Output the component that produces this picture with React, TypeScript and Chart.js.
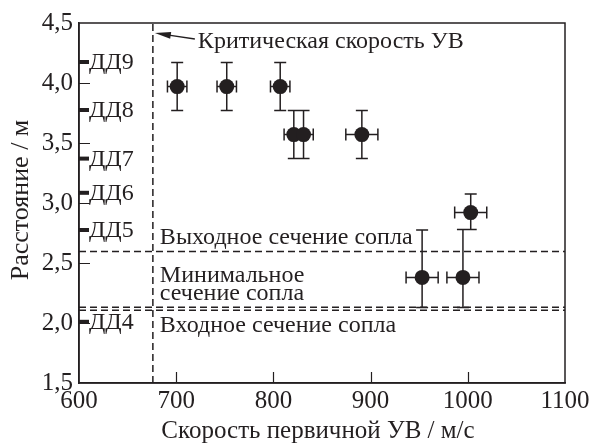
import { useEffect, useRef } from "react";
import { Chart, registerables } from "chart.js";

Chart.register(...registerables);

// ---- data ----
const speeds = [701, 752, 807, 821, 831, 891, 953, 995, 1003];
const distances = [3.97, 3.97, 3.97, 3.57, 3.57, 3.57, 2.38, 2.38, 2.92];
const distLow = [3.77, 3.77, 3.77, 3.37, 3.37, 3.37, 2.13, 2.13, 2.78];
const distHigh = [4.17, 4.17, 4.17, 3.77, 3.77, 3.77, 2.775, 2.78, 3.075];
const speedErr = [10, 10, 10, 10, 10, 16.5, 16.5, 16.5, 16.5];

const sensorNames = ["ДД4", "ДД5", "ДД6", "ДД7", "ДД8", "ДД9"];
const sensorPos = [2.01, 2.775, 3.085, 3.37, 3.775, 4.175];

const criticalSpeed = 676;
const exitSection = 2.595;
const minSection = 2.132;
const inletSection = 2.107;

const xMin = 600;
const xMax = 1100;
const yMin = 1.5;
const yMax = 4.5;
const xTickValues = [700, 800, 900, 1000];
const yTickValues = [2.0, 2.5, 3.0, 3.5, 4.0];

const xTitle = "Скорость первичной УВ / м/с";
const yTitle = "Расстояние / м";
const criticalLabel = "Критическая скорость УВ";
const exitLabel = "Выходное сечение сопла";
const minLabel = ["Минимальное", "сечение сопла"];
const inletLabel = "Входное сечение сопла";

const INK = "#231f20";
const FONT = "'Liberation Serif', 'DejaVu Serif', serif";

const decorPlugin = {
  id: "decor",
  beforeDatasetsDraw(chart: any) {
    const { ctx, chartArea } = chart;
    const xs = chart.scales.x;
    const ys = chart.scales.y;
    ctx.save();
    ctx.strokeStyle = INK;
    ctx.fillStyle = INK;
    // frame
    ctx.lineWidth = 1.5;
    ctx.strokeRect(chartArea.left, chartArea.top, chartArea.right - chartArea.left, chartArea.bottom - chartArea.top);
    // inner ticks
    ctx.lineWidth = 1.2;
    ctx.beginPath();
    for (const v of xTickValues) {
      const px = Math.round(xs.getPixelForValue(v)) + 0.5;
      ctx.moveTo(px, chartArea.bottom);
      ctx.lineTo(px, chartArea.bottom - 11);
    }
    for (const v of yTickValues) {
      const py = Math.round(ys.getPixelForValue(v)) + 0.5;
      ctx.moveTo(chartArea.left, py);
      ctx.lineTo(chartArea.left + 11, py);
    }
    ctx.stroke();

    // sensor marks
    ctx.font = `24px ${FONT}`;
    ctx.textAlign = "left";
    ctx.textBaseline = "alphabetic";
    sensorPos.forEach((v, i) => {
      const py = ys.getPixelForValue(v);
      ctx.fillRect(chartArea.left, py - 2, 10, 4);
      ctx.fillText(sensorNames[i], chartArea.left + 10, py + 7);
    });

    // error bars
    ctx.lineWidth = 1.5;
    const cap = 6;
    ctx.beginPath();
    speeds.forEach((s, i) => {
      const px = xs.getPixelForValue(s);
      const py = ys.getPixelForValue(distances[i]);
      const yl = ys.getPixelForValue(distLow[i]);
      const yh = ys.getPixelForValue(distHigh[i]);
      const xl = xs.getPixelForValue(s - speedErr[i]);
      const xh = xs.getPixelForValue(s + speedErr[i]);
      ctx.moveTo(px, yl);
      ctx.lineTo(px, yh);
      ctx.moveTo(px - cap, yl);
      ctx.lineTo(px + cap, yl);
      ctx.moveTo(px - cap, yh);
      ctx.lineTo(px + cap, yh);
      ctx.moveTo(xl, py);
      ctx.lineTo(xh, py);
      ctx.moveTo(xl, py - cap);
      ctx.lineTo(xl, py + cap);
      ctx.moveTo(xh, py - cap);
      ctx.lineTo(xh, py + cap);
    });
    ctx.stroke();
    ctx.restore();
  },
  afterDraw(chart: any) {
    const { ctx, chartArea } = chart;
    const xs = chart.scales.x;
    const ys = chart.scales.y;
    const cx = xs.getPixelForValue(criticalSpeed);
    ctx.save();
    ctx.fillStyle = INK;
    ctx.strokeStyle = INK;
    ctx.textAlign = "left";
    ctx.textBaseline = "alphabetic";
    ctx.font = `24px ${FONT}`;
    // critical speed label + arrow
    ctx.fillText(criticalLabel, cx + 45, chartArea.top + 25);
    const tipX = cx + 2;
    const tipY = chartArea.top + 10;
    const tailX = cx + 42;
    const tailY = chartArea.top + 16;
    const ang = Math.atan2(tailY - tipY, tailX - tipX);
    const hl = 16;
    const hw = 3.5;
    ctx.lineWidth = 1.3;
    ctx.beginPath();
    ctx.moveTo(tailX, tailY);
    ctx.lineTo(tipX + (hl - 2) * Math.cos(ang), tipY + (hl - 2) * Math.sin(ang));
    ctx.stroke();
    ctx.beginPath();
    ctx.moveTo(tipX, tipY);
    ctx.lineTo(tipX + hl * Math.cos(ang) - hw * Math.sin(ang), tipY + hl * Math.sin(ang) + hw * Math.cos(ang));
    ctx.lineTo(tipX + hl * Math.cos(ang) + hw * Math.sin(ang), tipY + hl * Math.sin(ang) - hw * Math.cos(ang));
    ctx.closePath();
    ctx.fill();

    // nozzle labels
    const ex = ys.getPixelForValue(exitSection);
    const inl = ys.getPixelForValue(inletSection);
    ctx.fillText(exitLabel, cx + 7, ex - 8);
    ctx.fillText(minLabel[0], cx + 7, ex + 30);
    ctx.fillText(minLabel[1], cx + 7, ex + 48);
    ctx.fillText(inletLabel, cx + 7, inl + 22);

    // axis titles
    ctx.font = `25px ${FONT}`;
    ctx.textAlign = "center";
    ctx.textBaseline = "middle";
    ctx.fillText(xTitle, (chartArea.left + chartArea.right) / 2 - 4, chartArea.bottom + 48);
    ctx.font = `26px ${FONT}`;
    ctx.translate(21, 200);
    ctx.rotate(-Math.PI / 2);
    ctx.fillText(yTitle, 0, 0);
    ctx.restore();
  },
};

export default function App() {
  const ref = useRef<HTMLCanvasElement | null>(null);
  useEffect(() => {
    document.body.style.margin = "0";
    const canvas = ref.current!;
    const points = speeds.map((s, i) => ({ x: s, y: distances[i] }));
    const dashed = { borderColor: INK, borderWidth: 1.5, borderDash: [7, 4], pointRadius: 0, showLine: true, fill: false, type: "line" as const };
    const chart = new Chart(canvas, {
      type: "scatter",
      data: {
        datasets: [
          { ...dashed, data: [{ x: criticalSpeed, y: yMin }, { x: criticalSpeed, y: yMax }] },
          { ...dashed, data: [{ x: xMin, y: exitSection }, { x: xMax, y: exitSection }] },
          { ...dashed, data: [{ x: xMin, y: minSection }, { x: xMax, y: minSection }] },
          { ...dashed, data: [{ x: xMin, y: inletSection }, { x: xMax, y: inletSection }] },
          {
            data: points,
            pointRadius: 7.5,
            pointBackgroundColor: INK,
            pointBorderColor: INK,
            pointBorderWidth: 0,
          },
        ] as any,
      },
      options: {
        responsive: false,
        animation: false,
        devicePixelRatio: 1,
        layout: { padding: { top: 23, right: 28, left: 0, bottom: 0 } },
        plugins: { legend: { display: false }, tooltip: { enabled: false } },
        scales: {
          x: {
            type: "linear",
            min: xMin,
            max: xMax,
            grid: { display: false, drawTicks: false },
            border: { display: true, color: INK, width: 1.5 },
            ticks: {
              stepSize: 100,
              color: INK,
              font: { family: FONT, size: 25 },
              padding: 3,
              maxRotation: 0,
              callback: (v: any) => String(Math.round(Number(v))),
            },
            afterFit(scale: any) {
              scale.height = 60;
            },
          },
          y: {
            type: "linear",
            min: yMin,
            max: yMax,
            grid: { display: false, drawTicks: false },
            border: { display: true, color: INK, width: 1.5 },
            ticks: {
              stepSize: 0.5,
              color: INK,
              font: { family: FONT, size: 25 },
              padding: 6,
              callback: (v: any) => Number(v).toFixed(1).replace(".", ","),
            },
            afterFit(scale: any) {
              scale.width = 79;
            },
          },
        },
      },
      plugins: [decorPlugin],
    });
    return () => chart.destroy();
  }, []);
  return (
    <div style={{ position: "fixed", left: 0, top: 0, width: 593, height: 443, background: "#fff" }}>
      <canvas ref={ref} width={593} height={443} style={{ width: 593, height: 443 }} />
    </div>
  );
}
